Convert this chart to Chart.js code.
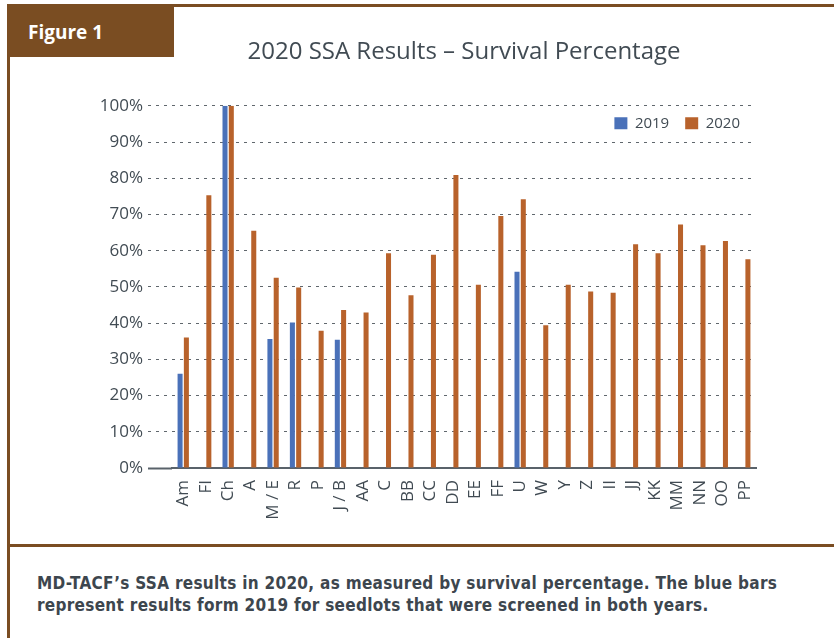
<!DOCTYPE html>
<html>
<head>
<meta charset="utf-8">
<script src="https://cdn.jsdelivr.net/npm/chart.js@4/dist/chart.umd.min.js"></script>
<style>
  html, body { margin: 0; padding: 0; background: #fff; }
  body { width: 834px; height: 638px; position: relative; overflow: hidden; }
  .garis-atas { position: absolute; left: 8px; top: 4px; width: 826px; height: 3px; background: #7a4d22; }
  .garis-kiri { position: absolute; left: 7px; top: 4px; width: 3px; height: 634px; background: #7a4d22; }
  .garis-bawah { position: absolute; left: 7px; top: 544px; width: 827px; height: 3px; background: #7a4d22; }
  .tab { position: absolute; left: 8px; top: 6px; width: 166px; height: 51px; background: #7a4d22;
         color: #fff; font: bold 19px "Open Sans", sans-serif; line-height: 51px; padding-left: 20px; box-sizing: border-box; }
  .tab span { position: relative; top: 1px; }
  .wadah { position: absolute; left: 12px; top: 0; width: 822px; height: 540px; }
  .keterangan { position: absolute; left: 37px; top: 572px; width: 797px; white-space: nowrap;
                font: bold 17px "DejaVu Sans Condensed", "DejaVu Sans", sans-serif; font-stretch: condensed;
                letter-spacing: 0.3px; color: #3d464e; line-height: 22px; }
</style>
</head>
<body>
<div class="garis-atas"></div>
<div class="garis-kiri"></div>
<div class="tab"><span>Figure 1</span></div>
<div class="wadah"><canvas id="grafikSSA"></canvas></div>
<div class="garis-bawah"></div>
<div class="keterangan">MD-TACF’s SSA results in 2020, as measured by survival percentage. The blue bars<br>represent results form 2019 for seedlots that were screened in both years.</div>

<script>
// Data kategori (seedlot) dan persentase hidup
const kategori = ['Am', 'FI', 'Ch', 'A', 'M / E', 'R', 'P', 'J / B', 'AA', 'C', 'BB', 'CC', 'DD',
                  'EE', 'FF', 'U', 'W', 'Y', 'Z', 'II', 'JJ', 'KK', 'MM', 'NN', 'OO', 'PP'];
const nilai2019 = [26, null, 100, null, 35.6, 40.2, null, 35.4, null, null, null, null, null,
                   null, null, 54.2, null, null, null, null, null, null, null, null, null, null];
const nilai2020 = [36, 75.3, 100, 65.5, 52.5, 49.8, 37.9, 43.6, 42.9, 59.3, 47.7, 58.9, 80.9,
                   50.6, 69.6, 74.2, 39.4, 50.6, 48.7, 48.4, 61.8, 59.3, 67.2, 61.5, 62.7, 57.6];
const tickPersen = [0, 10, 20, 30, 40, 50, 60, 70, 80, 90, 100];

const warnaTeks = '#414b53';

// Geser legenda ke dalam area grafik (pojok kanan atas)
const geserLegenda = {
    id: 'geserLegenda',
    afterLayout(chart) {
        const lg = chart.legend;
        if (!lg) return;
        const dy = (chart.chartArea.top - 6) - lg.top;
        lg.top += dy;
        lg.bottom += dy;
    }
};

const ctx = document.getElementById('grafikSSA').getContext('2d');
new Chart(ctx, {
    type: 'bar',
    data: {
        labels: kategori,
        datasets: [{
            label: '2019',
            data: nilai2019,
            backgroundColor: '#4a71b9',
        }, {
            label: '2020',
            data: nilai2020,
            backgroundColor: '#b8622b',
        }],
    },
    plugins: [geserLegenda],
    options: {
        responsive: true,
        maintainAspectRatio: false,
        animation: false,
        layout: { padding: { left: 0, right: 78, top: 0, bottom: 0 } },
        datasets: {
            bar: { categoryPercentage: 0.56, barPercentage: 0.8 }
        },
        plugins: {
            title: {
                display: true,
                fullSize: false,
                text: '2020 SSA Results – Survival Percentage',
                color: warnaTeks,
                font: { family: 'Open Sans', size: 24, weight: 'normal' },
                padding: { top: 38, bottom: 5 },
            },
            legend: {
                position: 'top',
                align: 'end',
                fullSize: false,
                maxHeight: 34,
                labels: {
                    boxWidth: 13,
                    boxHeight: 12,
                    padding: 16,
                    color: warnaTeks,
                    font: { family: 'Open Sans', size: 15 },
                },
            },
            tooltip: { enabled: false },
        },
        scales: {
            x: {
                grid: { display: false },
                border: { display: true, color: '#59626a', width: 2 },
                ticks: {
                    color: warnaTeks,
                    font: { family: 'Open Sans', size: 17 },
                    minRotation: 90,
                    maxRotation: 90,
                    autoSkip: false,
                    padding: 4,
                },
                afterFit: function (scale) { scale.height = 72; },
            },
            y: {
                min: 0,
                max: 100,
                afterBuildTicks: function (scale) {
                    scale.ticks = tickPersen.map(v => ({ value: v }));
                },
                ticks: {
                    color: warnaTeks,
                    font: { family: 'Open Sans', size: 17 },
                    padding: 5,
                    callback: v => v + '%',
                },
                border: { display: false, dash: [3, 5] },
                grid: {
                    color: c => c.tick && c.tick.value === 0 ? 'rgba(0,0,0,0)' : '#60676d',
                    lineWidth: 1,
                    tickLength: 24,
                    tickColor: c => c.tick && c.tick.value === 0 ? '#59626a' : '#60676d',
                    tickWidth: c => c.tick && c.tick.value === 0 ? 2 : 1,
                    tickBorderDash: c => c.tick && c.tick.value === 0 ? [] : [3, 5],
                },
                afterFit: function (scale) { scale.width = 160; },
            },
        },
    },
});
</script>
</body>
</html>
